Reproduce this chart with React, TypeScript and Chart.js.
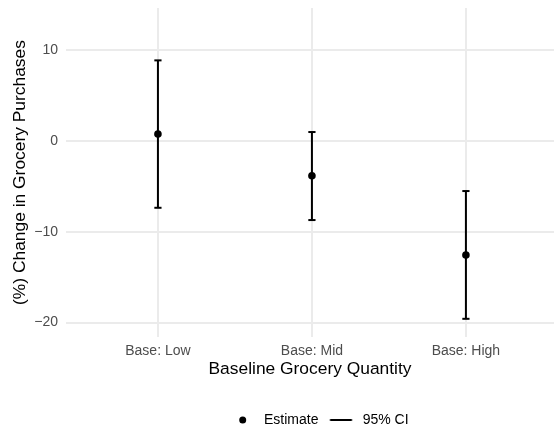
import React, { useEffect, useRef } from "react";
import { Chart, registerables } from "chart.js";

Chart.register(...registerables);

const categories = ["Base: Low", "Base: Mid", "Base: High"];
const estimates = [0.75, -3.85, -12.57];
const ciLower = [-7.37, -8.72, -19.58];
const ciUpper = [8.84, 0.96, -5.53];
const yTicks = [-20, -10, 0, 10];

const FONT = "'Liberation Sans', Arial, Helvetica, sans-serif";

function makeDot(): HTMLCanvasElement {
  const c = document.createElement("canvas");
  c.width = 20;
  c.height = 10;
  const ctx = c.getContext("2d")!;
  ctx.fillStyle = "#000";
  ctx.beginPath();
  ctx.arc(5.7, 5, 3.5, 0, Math.PI * 2);
  ctx.fill();
  return c;
}

function makeLine(): HTMLCanvasElement {
  const c = document.createElement("canvas");
  c.width = 40;
  c.height = 6;
  const ctx = c.getContext("2d")!;
  ctx.strokeStyle = "#000";
  ctx.lineWidth = 2;
  ctx.beginPath();
  ctx.moveTo(4.3, 3);
  ctx.lineTo(26.3, 3);
  ctx.stroke();
  return c;
}

export default function App() {
  const ref = useRef<HTMLCanvasElement | null>(null);

  useEffect(() => {
    if (!ref.current) return;
    const dotImg = makeDot();
    const lineImg = makeLine();

    const ciData: { x: number; y: number | null }[] = [];
    categories.forEach((_, i) => {
      ciData.push({ x: i + 1, y: ciLower[i] });
      ciData.push({ x: i + 1, y: ciUpper[i] });
      ciData.push({ x: i + 1, y: null });
    });

    const legendShift = {
      id: "legendShift",
      afterLayout(chart: any) {
        const lg = chart.legend;
        if (!lg || !lg.lineWidths) return;
        const p = lg.options.labels.padding;
        const x1 = (lg.left + p + lg.right - lg.lineWidths[0]) / 2;
        const dx = 237 - x1;
        const fs = 14;
        const cy = lg.top + p + fs / 2;
        const dy = 420 - cy;
        lg.left += dx;
        lg.right += dx;
        lg.top += dy;
        lg.bottom += dy;
      },
    };

    const chart = new Chart(ref.current, {
      type: "scatter",
      data: {
        datasets: [
          {
            label: "Estimate",
            data: categories.map((_, i) => ({ x: i + 1, y: estimates[i] })),
            pointStyle: "circle",
            pointRadius: 3.8,
            pointBackgroundColor: "#000",
            pointBorderWidth: 0,
            borderColor: "#000",
            backgroundColor: "#000",
          },
          {
            label: "95% CI",
            data: ciData as any,
            showLine: true,
            spanGaps: false,
            borderColor: "#000",
            borderWidth: 2,
            pointStyle: "line",
            pointRadius: 3.6,
            pointBorderWidth: 2,
            pointBorderColor: "#000",
            backgroundColor: "#000",
          },
        ],
      },
      options: {
        responsive: false,
        animation: false,
        events: [],
        layout: { autoPadding: false, padding: { top: 8, left: 0, right: 0, bottom: 0 } },
        scales: {
          x: {
            type: "linear",
            min: 0.403,
            max: 3.572,
            border: { display: false },
            grid: { color: "#ebebeb", lineWidth: 2, drawTicks: false },
            afterBuildTicks: (scale: any) => {
              scale.ticks = categories.map((_, i) => ({ value: i + 1 }));
            },
            afterFit: (scale: any) => {
              const lg = scale.chart.legend;
              scale.height = 428 - 337 - (lg ? lg.height : 0);
              scale.paddingLeft = 0;
              scale.paddingRight = 0;
            },
            ticks: {
              padding: 6,
              color: "#4d4d4d",
              font: { family: FONT, size: 14 },
              callback: (v: any) => categories[Math.round(Number(v)) - 1] ?? "",
              maxRotation: 0,
              autoSkip: false,
            },
            title: {
              display: true,
              text: "Baseline Grocery Quantity",
              color: "#000",
              font: { family: FONT, size: 17.4 },
              padding: { top: 0, bottom: 6.7 },
            },
          },
          y: {
            type: "linear",
            min: -21.58,
            max: 14.6,
            border: { display: false },
            grid: { color: "#ebebeb", lineWidth: 2, drawTicks: false },
            afterBuildTicks: (scale: any) => {
              scale.ticks = yTicks.map((v) => ({ value: v }));
            },
            afterFit: (scale: any) => {
              scale.width = 66;
              scale.paddingTop = 0;
              scale.paddingBottom = 0;
            },
            ticks: {
              padding: 8,
              color: "#4d4d4d",
              font: { family: FONT, size: 14 },
              callback: (v: any) => String(v).replace("-", "\u2212"),
            },
            title: {
              display: true,
              text: "(%) Change in Grocery Purchases",
              color: "#000",
              font: { family: FONT, size: 17.4 },
              padding: { top: 9.6, bottom: 0 },
            },
          },
        },
        plugins: {
          tooltip: { enabled: false },
          legend: {
            display: true,
            position: "bottom",
            align: "center",
            labels: {
              usePointStyle: true,
              pointStyleWidth: 20,
              padding: 17.2,
              color: "#000",
              font: { family: FONT, size: 14 },
              generateLabels: () => [
                {
                  text: "Estimate",
                  pointStyle: dotImg as any,
                  fillStyle: "#000",
                  strokeStyle: "#000",
                  lineWidth: 0,
                  hidden: false,
                  datasetIndex: 0,
                  fontColor: "#000",
                },
                {
                  text: "95% CI",
                  pointStyle: lineImg as any,
                  fillStyle: "#000",
                  strokeStyle: "#000",
                  lineWidth: 0,
                  hidden: false,
                  datasetIndex: 1,
                  fontColor: "#000",
                },
              ],
            },
          },
        },
      },
      plugins: [legendShift],
    });

    return () => chart.destroy();
  }, []);

  return (
    <div style={{ position: "absolute", left: 0, top: 0, width: 554, height: 428, background: "#fff" }}>
      <canvas ref={ref} width={554} height={428} style={{ display: "block" }} />
    </div>
  );
}
